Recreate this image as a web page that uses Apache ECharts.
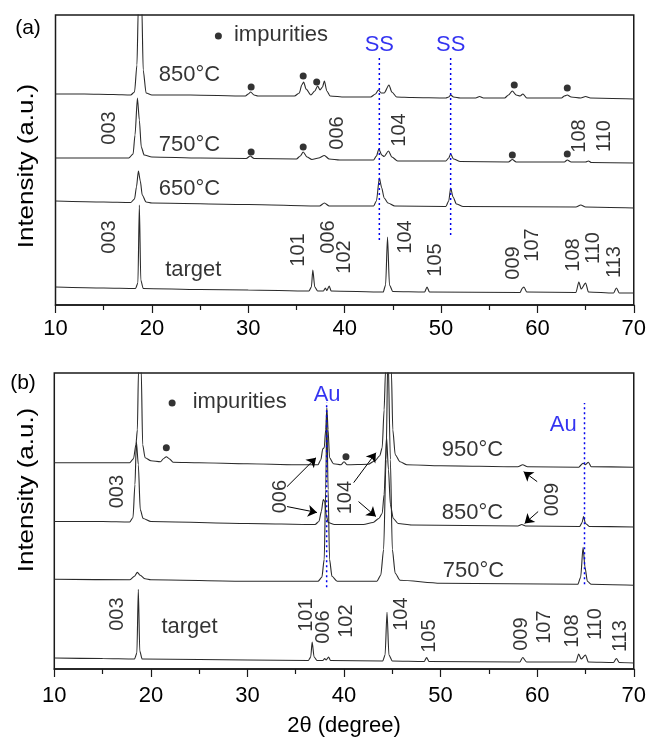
<!DOCTYPE html>
<html>
<head>
<meta charset="utf-8">
<script src="https://cdn.jsdelivr.net/npm/echarts@6/dist/echarts.min.js"></script>
<style>
html, body { margin: 0; padding: 0; background: #fff; }
#main { width: 649px; height: 738px; }
</style>
</head>
<body>
<div id="main"></div>
<script>
// ---- panel (a): [2theta, intensity] ----
var a850 = [[10,211],[13,211],[16,210.5],[17.8,210],[18.2,213],[18.45,240],[18.6,300],[18.95,300],[19.1,235],[19.4,212],[20,210],[24,210],
  [29.7,209],[30.0,211],[30.25,213],[30.6,210],[31,209],[34.8,209],[35.3,212],[35.55,220],[35.75,223],[36.0,216],[36.5,210],[36.9,214],
  [37.2,219],[37.45,215],[37.7,218],[37.9,224],[38.15,214],[38.5,209],[40,208],[42.7,208],[43.2,211],[43.5,215],[43.8,212],[44.1,212],
  [44.6,220],[44.9,213],[45.4,208],[47,207.5],[50.5,207],[50.8,208],[51.0,210],[51.3,208],[52,207],[53.6,207],[54.0,208.5],[54.4,207],
  [56.6,207],[57.0,210],[57.4,214],[57.8,210],[58.2,209],[58.5,211],[58.9,207],[62.5,207],[62.8,209],[63.1,210],[63.5,208],[64.5,207],
  [65.0,208.5],[65.5,207],[70,206]];
var a750 = [[10,147],[15,147],[17.6,147],[18.05,151],[18.25,170],[18.5,207],[18.7,185],[18.9,158],[19.2,150],[20,148],[25,147],
  [29.8,146.5],[30.2,149],[30.6,146.5],[35.0,146],[35.4,149],[35.7,153],[36.1,148],[36.6,145.5],[37.3,147],[37.9,149.5],[38.4,146],
  [39.5,145],[43.0,145],[43.3,149],[43.55,156],[43.85,150],[44.1,148.5],[44.55,154],[44.9,148],[45.5,144],[50.5,144],[50.8,147],
  [51.0,151],[51.3,146],[52,143.5],[57,143],[57.4,145.5],[57.8,143],[62.8,143],[63.1,145],[63.5,143],[65,143],[65.3,144],[65.6,142.5],[70,142]];
var a650 = [[10,104],[15,103],[17.8,102.5],[18.2,106],[18.4,118],[18.6,134],[18.8,124],[19.0,110],[19.4,103],[20,102],[30,100.5],
  [37.4,99],[37.9,102],[38.4,99],[43.0,99],[43.3,104],[43.6,127],[43.85,117],[44.1,107],[44.5,102],[45.2,99],[50.5,98.5],[50.8,104],
  [51.0,117],[51.25,108],[51.6,101],[52.3,98.5],[64,98],[64.5,100],[65,98],[70,97]];
var aTarget = [[10,18],[15,17],[18.3,16.5],[18.55,22],[18.7,100],[18.85,25],[19.1,16.5],[25,15.5],[30,15],[36.3,14],[36.55,18],
  [36.7,35],[36.9,18],[37.2,14],[37.8,14],[38.0,17],[38.15,14.5],[38.4,19],[38.6,14],[44.0,13],[44.25,20],[44.45,68],[44.65,20],
  [45.0,13.5],[48.3,13],[48.55,18],[48.8,13],[58.2,12.5],[58.45,17],[58.6,18],[58.9,13],[64.0,12.5],[64.3,23],[64.55,16],[65.0,22],
  [65.3,13],[67.9,12],[68.2,17],[68.5,12],[70,12]];
var aDots = [[30.3,218],[35.7,229],[37.1,223],[57.6,220],[63.1,217],[30.3,153],[35.7,158],[57.4,150],[63.1,151],[26.9,269]];
var aSS = [[43.6,65,247],[51.0,70,247]];

// ---- panel (b) ----
var b950 = [[10,207],[15,207],[17.8,207],[18.2,211],[18.45,225],[18.6,240],[18.72,300],[19.0,300],[19.15,225],[19.4,212],[20,209],
  [21.0,208],[21.3,211],[21.6,213],[21.9,211],[22.3,207.5],[25,207],[30,206],[35,205],[37.3,205],[37.6,210],[37.8,221],[37.95,222],
  [38.1,240],[38.22,262],[38.35,240],[38.5,212],[38.9,206],[39.7,205],[40.0,208],[40.3,205],[42.5,205.5],[43.2,209],[43.7,214],
  [43.95,222],[44.15,260],[44.3,300],[44.9,300],[45.05,240],[45.3,215],[45.8,208],[46.5,205],[50,204],[58.0,203],[58.5,205],
  [59,203],[64.3,202.5],[64.75,206.5],[65.0,205],[65.3,207.5],[65.6,203],[70,202.5]];
var b850 = [[10,148],[15,148],[17.8,147.5],[18.15,152],[18.35,185],[18.5,228],[18.7,205],[18.9,160],[19.2,151],[20,148],[30,146],
  [37.0,145],[37.4,148],[37.65,158],[37.85,170],[38.0,168],[38.15,155],[38.35,147],[39,145],[42.0,145],[43.0,147],[43.6,151],
  [43.95,156],[44.15,175],[44.4,233],[44.6,200],[44.8,165],[45.1,151],[45.6,146],[47,144.5],[58.0,143.5],[58.4,145],[58.8,143.5],
  [64.4,143],[64.65,147],[64.8,153],[65.0,146],[65.4,143],[70,142.5]];
var b750 = [[10,90],[17.8,89.5],[18.3,93],[18.6,97],[18.9,94],[19.4,90.5],[20,89.5],[30,88],[37.3,88],[37.7,92],[37.95,110],
  [38.1,180],[38.22,255],[38.35,180],[38.5,110],[38.75,93],[39.3,88],[43.4,88],[43.8,94],[44.1,120],[44.35,210],[44.55,320],
  [44.8,210],[45.0,120],[45.3,96],[45.8,89],[50,86],[64.2,85],[64.5,92],[64.75,122],[64.95,102],[65.2,88],[65.6,85],[70,84]];
var bTarget = [[10,11],[15,10.5],[18.3,10],[18.55,16],[18.7,80],[18.85,18],[19.1,10],[25,9.5],[30,9],[36.3,8.5],[36.55,12],
  [36.7,27],[36.9,12],[37.2,8.5],[37.8,8.5],[38.0,10.5],[38.15,9],[38.4,12],[38.6,8.5],[44.0,8],[44.25,14],[44.45,57],[44.65,14],
  [45.0,8],[48.3,7.5],[48.55,11.5],[48.8,7.5],[58.2,7],[58.5,11.5],[58.9,7],[64.0,7],[64.3,15],[64.55,10],[65.0,14],[65.3,7],
  [67.9,6.5],[68.2,10.5],[68.5,6.5],[70,6]];
var bDots = [[21.6,222],[40.2,213],[22.2,267]];
var bAu = [[38.2,82,268],[64.9,85,267]];
var bArrows = [[34.1,183,37.1,212],[34.1,163,37.2,157],[41.0,187,43.3,217],[41.5,168,43.3,153],[60.0,188,58.6,198],[60.1,158,58.7,146]];

// ---- annotation texts: [text, 2theta, intensity] ----
var aTemps = [['850°C',23.9,230],['750°C',23.9,160],['650°C',23.9,116],['target',24.3,35],['impurities',33.4,270]];
var aHkl = [['003',15.65,177],['003',15.65,68],['101',35.2,55],['006',38.3,68],['102',40.0,48],['104',46.3,68],['105',49.4,45],
  ['009',57.5,42],['107',59.5,60],['108',63.7,50],['110',65.8,57],['113',68.0,43],
  ['006',39.3,172],['104',45.7,175],['108',64.4,169],['110',67.0,169]];
var aBlue = [['SS',43.6,260],['SS',51.0,260]];
var bTemps = [['950°C',53.3,220],['850°C',53.3,157],['750°C',53.4,98],['target',24.0,42],['impurities',29.2,268]];
var bHkl = [['003',16.5,178],['003',16.5,55],['006',33.4,173],['104',40.2,172],['009',61.6,170],
  ['101',36.1,54],['006',37.9,42],['102',40.3,48],['104',46.0,55],['105',48.8,33],['009',58.4,35],['107',60.8,42],
  ['108',63.7,38],['110',66.0,45],['113',68.6,33]];
var bBlue = [['Au',38.25,275],['Au',62.7,245]];

var FONT = '"Liberation Sans", Arial, Helvetica, sans-serif';
var INK = '#1a1a1a';
var BLUE = '#0000ee';

function traceSeries(data, i) {
    return {
        type: 'line', xAxisIndex: i, yAxisIndex: i, data: data,
        showSymbol: false, smooth: 0.25, smoothMonotone: 'x', silent: true,
        lineStyle: { color: '#2a2a2a', width: 1.1 }, z: 3
    };
}

function textSeries(items, i, size, rotate, color) {
    return {
        type: 'scatter', xAxisIndex: i, yAxisIndex: i, symbolSize: 1, silent: true, z: 6,
        itemStyle: { color: 'rgba(0,0,0,0)' },
        data: items.map(function (d) { return { name: d[0], value: [d[1], d[2]] }; }),
        label: {
            show: true, position: 'inside', formatter: '{b}', rotate: rotate,
            fontSize: size, color: color || '#000', fontFamily: FONT
        }
    };
}

function dotSeries(dots, i) {
    return {
        type: 'scatter', xAxisIndex: i, yAxisIndex: i, symbol: 'circle', symbolSize: 7, silent: true,
        itemStyle: { color: '#000' }, data: dots, z: 5
    };
}

function dottedSeries(lines, i) {
    return lines.map(function (l) {
        return {
            type: 'line', xAxisIndex: i, yAxisIndex: i, showSymbol: false, silent: true, z: 4,
            lineStyle: { color: BLUE, width: 1.5, type: [2, 3] },
            data: [[l[0], l[1]], [l[0], l[2]]]
        };
    });
}

function xAxis(i, margin, name) {
    return {
        gridIndex: i, type: 'value', min: 10, max: 70, interval: 10,
        axisLine: { show: true, lineStyle: { color: INK, width: 1.5 } },
        axisTick: { show: true, inside: false, length: 8, lineStyle: { color: INK, width: 1.2 } },
        minorTick: { show: true, splitNumber: 2, length: 5, lineStyle: { color: INK, width: 1.2 } },
        axisLabel: { fontSize: 22, color: '#000', margin: margin, fontFamily: FONT },
        splitLine: { show: false },
        name: name, nameLocation: 'middle', nameGap: 46,
        nameTextStyle: { fontSize: 22, color: '#000', fontFamily: FONT }
    };
}

function yAxis(i, max) {
    return {
        gridIndex: i, type: 'value', min: 0, max: max,
        axisLine: { show: false }, axisTick: { show: false },
        axisLabel: { show: false }, splitLine: { show: false }
    };
}

var dom = document.getElementById('main');
var chart = echarts.init(dom, null, { renderer: 'canvas' });

var series = [
    traceSeries(a850, 0), traceSeries(a750, 0), traceSeries(a650, 0), traceSeries(aTarget, 0),
    traceSeries(b950, 1), traceSeries(b850, 1), traceSeries(b750, 1), traceSeries(bTarget, 1),
    dotSeries(aDots, 0), dotSeries(bDots, 1),
    textSeries(aTemps, 0, 22, 0), textSeries(aHkl, 0, 20, 90), textSeries(aBlue, 0, 22, 0, BLUE),
    textSeries(bTemps, 1, 22, 0), textSeries(bHkl, 1, 20, 90), textSeries(bBlue, 1, 22, 0, BLUE),
    {
        type: 'line', xAxisIndex: 1, yAxisIndex: 1, data: [], silent: true,
        markLine: {
            silent: true, symbol: ['none', 'arrow'], symbolSize: 9, animation: false,
            label: { show: false },
            lineStyle: { color: '#000', width: 1, type: 'solid' },
            data: bArrows.map(function (a) { return [{ coord: [a[0], a[1]] }, { coord: [a[2], a[3]] }]; })
        }
    }
].concat(dottedSeries(aSS, 0), dottedSeries(bAu, 1));

var option = {
    animation: false,
    backgroundColor: '#fff',
    grid: [
        { left: 55.5, top: 15, width: 578.5, height: 290, show: true, borderColor: INK, borderWidth: 1.5, backgroundColor: 'transparent' },
        { left: 54.3, top: 373, width: 581.7, height: 297, show: true, borderColor: INK, borderWidth: 1.5, backgroundColor: 'transparent' }
    ],
    xAxis: [xAxis(0, 13, ''), xAxis(1, 16, '2θ (degree)')],
    yAxis: [yAxis(0, 290), yAxis(1, 297)],
    graphic: [
        { type: 'text', x: 28, y: 28, style: { text: '(a)', fontSize: 21, fontFamily: FONT, fill: '#000', align: 'center', verticalAlign: 'middle' } },
        { type: 'text', x: 23, y: 383, style: { text: '(b)', fontSize: 21, fontFamily: FONT, fill: '#000', align: 'center', verticalAlign: 'middle' } },
        { type: 'text', x: 27, y: 166, rotation: Math.PI / 2, scaleX: 1.18,
          style: { text: 'Intensity (a.u.)', fontSize: 22, fontFamily: FONT, fill: '#000', align: 'center', verticalAlign: 'middle' } },
        { type: 'text', x: 27, y: 490, rotation: Math.PI / 2, scaleX: 1.18,
          style: { text: 'Intensity (a.u.)', fontSize: 22, fontFamily: FONT, fill: '#000', align: 'center', verticalAlign: 'middle' } }
    ],
    series: series
};

chart.setOption(option);
</script>
</body>
</html>
